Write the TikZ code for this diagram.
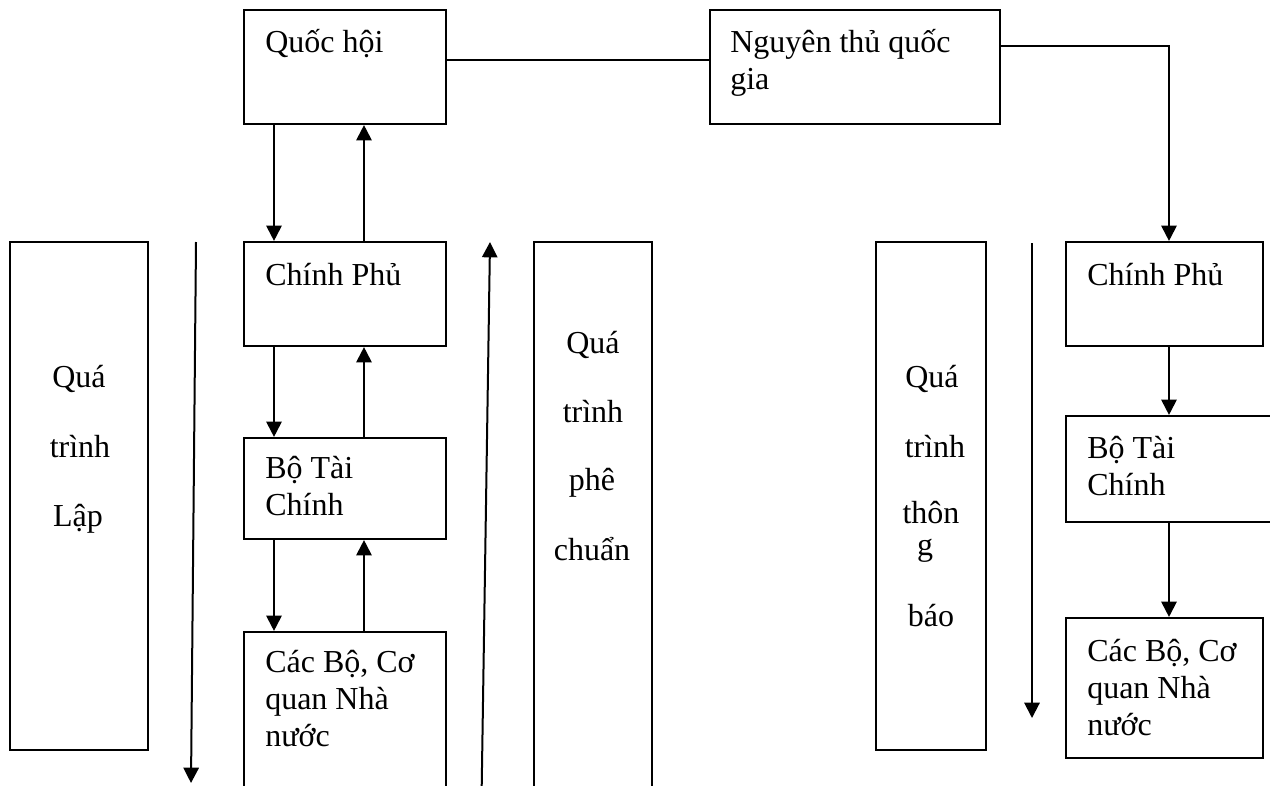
\documentclass[tikz,border=0pt]{standalone}
\usepackage{fontspec}
\setmainfont{Liberation Serif}
\usetikzlibrary{arrows.meta,fit}
\begin{document}
\begin{tikzpicture}[x=0.75pt,y=-0.75pt,
  box/.style={draw, line width=1.6pt, rectangle, inner sep=0pt},
  txt/.style={inner sep=0pt, font=\fontsize{24pt}{28pt}\selectfont},
  lead/.style={txt, anchor=base west},
  col/.style={txt, anchor=base},
  conn/.style={line width=1.5pt},
  arr/.style={conn, -{Triangle[length=11.5pt,width=11.5pt]}}]
\useasboundingbox (0,0) rectangle (1270,785);
\clip (0,0) rectangle (1270,785);

% boxes of the central chain
\node[box, fit={(244,10) (446,124)}] (qh) {};
\node[box, fit={(710,10) (1000,124)}] (nt) {};
\node[box, fit={(244,242) (446,346)}] (cp) {};
\node[box, fit={(244,438) (446,539)}] (btc) {};
\node[box, fit={(244,632) (446,810)}] (cb) {};
% process columns
\node[box, fit={(10,242) (148,750)}] (lap) {};
\node[box, fit={(534,242) (652,810)}] (pc) {};
\node[box, fit={(876,242) (986,750)}] (tb) {};
% right-hand chain
\node[box, fit={(1066,242) (1263,346)}] (rcp) {};
\node[box, fit={(1066,416) (1285,522)}] (rbtc) {};
\node[box, fit={(1066,618) (1263,758)}] (rcb) {};

% box captions
\node[lead] (qht) at (265,52) {Quốc hội};
\node[lead] (ntt1) at (730,52) {Nguyên thủ quốc};
\node[lead] (ntt2) at (730,89) {gia};
\node[lead] (cpt) at (265,285) {Chính Phủ};
\node[lead] (btct1) at (265,478) {Bộ Tài};
\node[lead] (btct2) at (265,515) {Chính};
\node[lead] (cbt1) at (265,672) {Các Bộ, Cơ};
\node[lead] (cbt2) at (265,709) {quan Nhà};
\node[lead] (cbt3) at (265,746) {nước};
\node[lead] (rcpt) at (1087,285) {Chính Phủ};
\node[lead] (rbtct1) at (1087,458) {Bộ Tài};
\node[lead] (rbtct2) at (1087,495) {Chính};
\node[lead] (rcbt1) at (1087,661) {Các Bộ, Cơ};
\node[lead] (rcbt2) at (1087,698) {quan Nhà};
\node[lead] (rcbt3) at (1087,735) {nước};

% column captions
\node[col] (lap1) at (79,387) {Quá};
\node[col] (lap2) at (80,457) {trình};
\node[col] (lap3) at (78,526) {Lập};
\node[col] (pc1) at (593,353) {Quá};
\node[col] (pc2) at (593,422) {trình};
\node[col] (pc3) at (592,490) {phê};
\node[col] (pc4) at (592,560) {chuẩn};
\node[col] (tb1) at (932,387) {Quá};
\node[col] (tb2) at (935,457) {trình};
\node[col] (tb3) at (931,523) {thôn};
\node[col] (tb4) at (925,555) {g};
\node[col] (tb5) at (931,626) {báo};

% connectors of the central chain
\coordinate (xd) at (274,0);
\coordinate (xu) at (364,0);
\coordinate (xr) at (1169,0);
\draw[arr] (qh.south -| xd) -- (cp.north -| xd);
\draw[arr] (cp.north -| xu) -- (qh.south -| xu);
\draw[arr] (cp.south -| xd) -- (btc.north -| xd);
\draw[arr] (btc.north -| xu) -- (cp.south -| xu);
\draw[arr] (btc.south -| xd) -- (cb.north -| xd);
\draw[arr] (cb.north -| xu) -- (btc.south -| xu);
\draw[conn] (qh.east |- 0,60) -- (nt.west |- 0,60);

% connectors of the right-hand chain
\draw[arr] (nt.east |- 0,46) -| (rcp.north -| xr);
\draw[arr] (rcp.south -| xr) -- (rbtc.north -| xr);
\draw[arr] (rbtc.south -| xr) -- (rcb.north -| xr);

% process direction arrows
\coordinate (lapS) at (196,242);
\coordinate (lapE) at (191,783);
\draw[arr] (lapS) -- (lapE);
\coordinate (pcS) at (481.5,800);
\coordinate (pcE) at (490,242);
\draw[arr] (pcS) -- (pcE);
\coordinate (tbS) at (1032,243);
\coordinate (tbE) at (1032,718);
\draw[arr] (tbS) -- (tbE);
\end{tikzpicture}
\end{document}
